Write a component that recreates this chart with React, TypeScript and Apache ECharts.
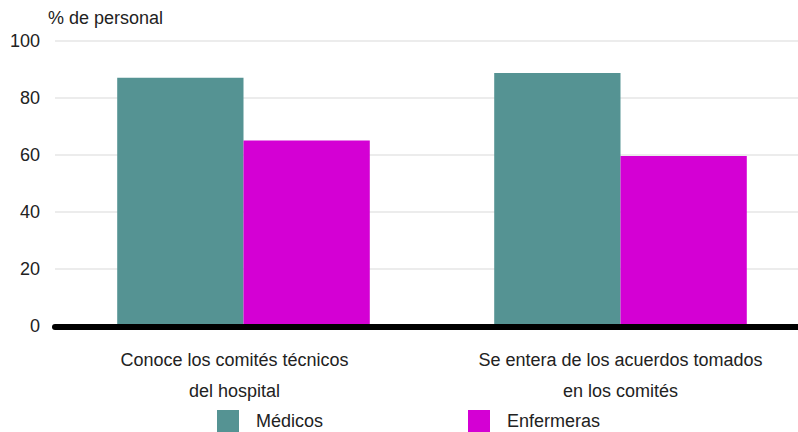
import React, { useEffect, useRef } from "react";
import * as echarts from "echarts";

const categories = [
  "Conoce los comités técnicos\ndel hospital",
  "Se entera de los acuerdos tomados\nen los comités",
];
const medicos = [87, 88.6];
const enfermeras = [65, 59.6];
const seriesNames = ["Médicos", "Enfermeras"];
const yTicks = { min: 0, max: 100, interval: 20 };
const yTitle = "% de personal";

const FONT = "'Liberation Sans', Arial, sans-serif";

export default function App() {
  const ref = useRef<HTMLDivElement>(null);
  useEffect(() => {
    if (!ref.current) return;
    const chart = echarts.init(ref.current, undefined, { renderer: "svg" });
    chart.setOption({
      animation: false,
      title: {
        text: yTitle,
        left: 43,
        top: 4,
        textStyle: { fontFamily: FONT, fontSize: 18, fontWeight: "normal", color: "#222" },
      },
      legend: {
        left: 212,
        top: 405,
        itemWidth: 22,
        itemHeight: 22,
        itemGap: 145,
        icon: "rect",
        textStyle: { fontFamily: FONT, fontSize: 18, color: "#222", padding: [0, 0, 0, 12] },
        data: seriesNames,
      },
      grid: { left: 55, width: 754, top: 40.5, bottom: 105.7, outerBoundsMode: "none" },
      xAxis: {
        type: "category",
        data: categories.map((c, i) =>
          i === 0 ? { value: c, textStyle: { padding: [0, 18, 0, 0] } } : c
        ),
        z: 5,
        axisLine: { lineStyle: { color: "#000", width: 6, cap: "round" } },
        axisTick: { show: false },
        axisLabel: {
          fontFamily: FONT,
          fontSize: 18,
          color: "#222",
          lineHeight: 31,
          margin: 18,
          interval: 0,
        },
      },
      yAxis: {
        type: "value",
        min: yTicks.min,
        max: yTicks.max,
        interval: yTicks.interval,
        axisLine: { show: false },
        axisTick: { show: false },
        axisLabel: { fontFamily: FONT, fontSize: 18, color: "#222", margin: 15 },
        splitLine: { lineStyle: { color: "#e6e6e6", width: 1.5 } },
      },
      series: [
        {
          name: seriesNames[0],
          type: "bar",
          data: medicos,
          barGap: "0%",
          barCategoryGap: "33%",
          itemStyle: { color: "#559393" },
        },
        {
          name: seriesNames[1],
          type: "bar",
          data: enfermeras,
          itemStyle: { color: "#d400d4" },
        },
      ],
    });
    return () => chart.dispose();
  }, []);
  return (
    <div
      ref={ref}
      style={{ position: "absolute", left: 0, top: 0, width: 798, height: 432 }}
    />
  );
}
